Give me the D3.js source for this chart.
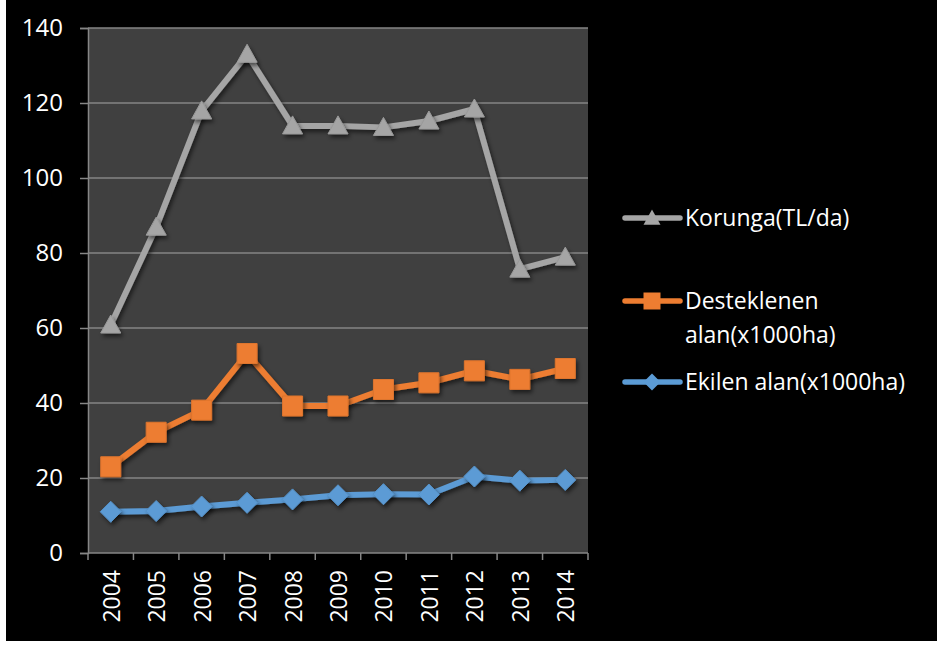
<!DOCTYPE html>
<html>
<head>
<meta charset="utf-8">
<script src="https://cdn.jsdelivr.net/npm/d3@7"></script>
<style>
  html, body { margin: 0; padding: 0; background: #fff; }
  svg { display: block; font-family: "Open Sans", "DejaVu Sans", sans-serif; }
</style>
</head>
<body>
<div id="chart"></div>
<script>
const years = ['2004', '2005', '2006', '2007', '2008', '2009', '2010', '2011', '2012', '2013', '2014'];
const korunga = [60.8, 86.9, 117.9, 133, 113.9, 113.9, 113.5, 115.2, 118.4, 75.7, 78.9];
const desteklenen = [23.0, 32.2, 38.1, 53.2, 39.2, 39.2, 43.6, 45.4, 48.6, 46.3, 49.2];
const ekilen = [11.0, 11.2, 12.4, 13.4, 14.3, 15.4, 15.7, 15.6, 20.4, 19.3, 19.5];
const yTicks = [0, 20, 40, 60, 80, 100, 120, 140];

const series = [
    { name: ['Korunga(TL/da)'], values: korunga, color: '#a5a5a5', marker: 'triangle' },
    { name: ['Desteklenen', 'alan(x1000ha)'], values: desteklenen, color: '#ed7d31', marker: 'square' },
    { name: ['Ekilen alan(x1000ha)'], values: ekilen, color: '#5b9bd5', marker: 'diamond' }
];

const width = 937;
const height = 646;
const plot = { left: 88, right: 588, top: 28, bottom: 553 };

const svg = d3.select('#chart')
    .append('svg')
    .attr('width', width)
    .attr('height', height);

// drop shadow like the office markers
const defs = svg.append('defs');
const filter = defs.append('filter')
    .attr('id', 'shadow')
    .attr('x', '-50%').attr('y', '-50%')
    .attr('width', '200%').attr('height', '200%');
filter.append('feDropShadow')
    .attr('dx', 2).attr('dy', 3)
    .attr('stdDeviation', 2)
    .attr('flood-color', '#000')
    .attr('flood-opacity', 0.55);

svg.append('rect')
    .attr('x', 6).attr('y', 0)
    .attr('width', width - 6).attr('height', 641)
    .attr('fill', '#000');

const x = d3.scaleBand()
    .domain(years)
    .range([plot.left, plot.right])
    .padding(0);

const y = d3.scaleLinear()
    .domain([0, 140])
    .range([plot.bottom, plot.top]);

const cx = d => x(d) + x.bandwidth() / 2;

svg.append('rect')
    .attr('x', plot.left).attr('y', plot.top)
    .attr('width', plot.right - plot.left)
    .attr('height', plot.bottom - plot.top)
    .attr('fill', '#404040');

// gridlines
svg.append('g')
    .selectAll('line')
    .data(yTicks.filter(t => t > 0))
    .join('line')
    .attr('x1', plot.left).attr('x2', plot.right)
    .attr('y1', d => y(d)).attr('y2', d => y(d))
    .attr('stroke', '#858585')
    .attr('stroke-width', 1.5);

// y axis
const yAxis = svg.append('g')
    .attr('transform', `translate(${plot.left},0)`)
    .call(d3.axisLeft(y).tickValues(yTicks).tickSize(8).tickPadding(17));
yAxis.select('.domain').attr('stroke', '#868686').attr('stroke-width', 1.5);
yAxis.selectAll('.tick line').attr('stroke', '#868686').attr('stroke-width', 1.5);
yAxis.selectAll('.tick text')
    .attr('fill', '#fff')
    .style('font-size', '24px')
    .style('font-family', '"Open Sans", sans-serif');

// x axis: ticks at category boundaries
const xAxis = svg.append('g');
xAxis.append('line')
    .attr('x1', plot.left).attr('x2', plot.right)
    .attr('y1', plot.bottom).attr('y2', plot.bottom)
    .attr('stroke', '#868686')
    .attr('stroke-width', 1.5);
xAxis.selectAll('.tick')
    .data(years.concat(['end']))
    .join('line')
    .attr('class', 'tick')
    .attr('x1', d => d === 'end' ? plot.right : x(d))
    .attr('x2', d => d === 'end' ? plot.right : x(d))
    .attr('y1', plot.bottom).attr('y2', plot.bottom + 7)
    .attr('stroke', '#868686')
    .attr('stroke-width', 1.5);
xAxis.selectAll('text')
    .data(years)
    .join('text')
    .attr('transform', d => `translate(${cx(d) + 9},${plot.bottom + 17}) rotate(-90)`)
    .attr('text-anchor', 'end')
    .attr('fill', '#fff')
    .style('font-size', '23px')
    .text(d => d);

function markerPath(type, s) {
    const h = s / 2;
    if (type === 'triangle') return `M0,${-h}L${h},${h * 0.8}L${-h},${h * 0.8}Z`;
    if (type === 'square') return `M${-h},${-h}H${h}V${h}H${-h}Z`;
    return `M0,${-h}L${h},0L0,${h}L${-h},0Z`;
}

const line = d3.line()
    .x((d, i) => cx(years[i]))
    .y(d => y(d));

series.forEach(s => {
    const g = svg.append('g');
    g.append('path')
        .datum(s.values)
        .attr('d', line)
        .attr('fill', 'none')
        .attr('stroke', s.color)
        .attr('stroke-width', 6)
        .attr('stroke-linejoin', 'round')
        .attr('filter', 'url(#shadow)');
    g.selectAll('.marker')
        .data(s.values)
        .join('path')
        .attr('class', 'marker')
        .attr('transform', (d, i) => `translate(${cx(years[i])},${y(d)})`)
        .attr('d', markerPath(s.marker, s.marker === 'diamond' ? 21 : 20))
        .attr('fill', s.color)
        .attr('stroke', d3.color(s.color).darker(0.2))
        .attr('stroke-width', 1)
        .attr('filter', 'url(#shadow)');
});

// legend
const legendY = [218, 301, 382];
const legend = svg.append('g');
series.forEach((s, k) => {
    const ly = legendY[k];
    legend.append('line')
        .attr('x1', 625).attr('x2', 680)
        .attr('y1', ly).attr('y2', ly)
        .attr('stroke', s.color)
        .attr('stroke-width', 5.5)
        .attr('stroke-linecap', 'round');
    legend.append('path')
        .attr('transform', `translate(652,${ly})`)
        .attr('d', markerPath(s.marker, 17))
        .attr('fill', s.color);
    const t = legend.append('text')
        .attr('x', 685)
        .attr('y', ly + 8)
        .attr('fill', '#fff')
        .style('font-size', '23px');
    s.name.forEach((n, j) => {
        t.append('tspan')
            .attr('x', 685)
            .attr('dy', j === 0 ? 0 : 34)
            .text(n);
    });
});
</script>
</body>
</html>
